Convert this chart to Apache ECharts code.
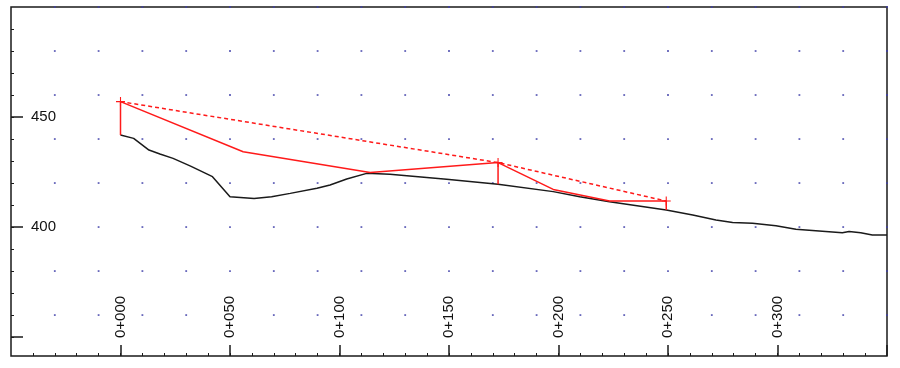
<!DOCTYPE html>
<html><head><meta charset="utf-8">
<script src="https://cdn.jsdelivr.net/npm/echarts@6/dist/echarts.min.js"></script>
<style>html,body{margin:0;padding:0;background:#fff}#c{width:900px;height:368px}</style>
</head><body><div id="c"></div>
<script>
// Ground profile (chainage m, elevation m)
const groundX = [0, 6, 13, 18, 24, 32, 42, 50, 61, 69, 77.5, 89.7, 95.7, 103.3, 112.4, 123, 148.9, 172.4, 197.6, 209.7, 223.3, 249.2, 261.3, 271.9, 279.5, 288.6, 299.3, 308.4, 320.5, 329.6, 332.7, 338, 343.3, 350];
const groundY = [441.8, 440.3, 435, 433.2, 431.2, 427.7, 422.9, 413.8, 413, 413.8, 415.3, 417.6, 419.1, 421.8, 424.4, 424, 421.7, 419.4, 416.1, 413.8, 411.5, 407.7, 405.5, 403.2, 402.1, 401.7, 400.6, 399, 398.1, 397.4, 398, 397.4, 396.4, 396.4];
// Red solid line
const redX = [0, 56, 114, 172.4, 197.6, 223.3, 249.2];
const redY = [457, 434.2, 424.8, 429.3, 417.1, 411.8, 411.8];
// Red dashed chord line (with + markers)
const chordX = [0, 172.4, 249.2];
const chordY = [457, 429.3, 411.8];
// Vertical drops from chord points to ground
const dropX = [0, 172.4, 249.2];
const dropTop = [457, 429.3, 411.8];
const dropBottom = [441.8, 419.4, 407.7];
// Axes
const xMajorTicks = [0, 50, 100, 150, 200, 250, 300, 350];
const xTickLabels = ['0+000', '0+050', '0+100', '0+150', '0+200', '0+250', '0+300'];
const xLabelValues = [0, 50, 100, 150, 200, 250, 300];
const xMinorTicks = [-40,-30,-20,-10,0,10,20,30,40,50,60,70,80,90,100,110,120,130,140,150,160,170,180,190,200,210,220,230,240,250,260,270,280,290,300,310,320,330,340];
const yMajorTicks = [350, 400, 450];
const yLabelValues = [400, 450];
const yMinorTicks = [350,360,370,380,390,400,410,420,430,440,450,460,470,480,490];
// Dot grid positions
const dotXs = [-30,-10,10,30,50,70,90,110,130,150,170,190,210,230,250,270,290,310,330,350];
const dotYs = [360,380,400,420,440,460,480,500];
const dotHidden = ['50,360','150,360','250,360','-30,400'];

const dots = [];
dotYs.forEach(y => dotXs.forEach(x => { if (!dotHidden.includes(x + ',' + y)) dots.push([x, y]); }));

const pair = (xs, ys) => xs.map((x, i) => [x, ys[i]]);
const XMIN = -50, XMAX = 350, YMIN = 341.4, YMAX = 500;
const font = 'Liberation Sans, Arial, sans-serif';

const chart = echarts.init(document.getElementById('c'), null, {renderer: 'canvas'});
const axisBaseX = {type: 'value', min: XMIN, max: XMAX, splitLine: {show: false}, axisLine: {show: false, onZero: false}};
const axisBaseY = {type: 'value', min: YMIN, max: YMAX, splitLine: {show: false}, axisLine: {show: false, onZero: false}};

const series = [
  {type: 'scatter', data: dots, symbol: 'rect', symbolSize: 1.8, itemStyle: {color: '#3c3ca8'}, silent: true, z: 1},
  {type: 'line', data: pair(groundX, groundY), symbol: 'none', lineStyle: {color: '#1a1a1a', width: 1.5}, z: 3},
  {type: 'line', data: pair(redX, redY), symbol: 'none', lineStyle: {color: '#ff1a1a', width: 1.5}, z: 4},
  {type: 'line', data: pair(chordX, chordY), symbol: 'path://M0,4.4h10v1.2h-10zM4.4,0h1.2v10h-1.2z', symbolSize: 9,
    itemStyle: {color: '#ff1a1a'}, lineStyle: {color: '#ff1a1a', width: 1.5, type: [4, 3]}, z: 4}
];
dropX.forEach((x, i) => series.push({type: 'line', data: [[x, dropTop[i]], [x, dropBottom[i]]], symbol: 'none',
  lineStyle: {color: '#ff1a1a', width: 1.5}, z: 4}));

chart.setOption({
  backgroundColor: '#fff',
  animation: false,
  grid: {left: 11, right: 13, top: 7, bottom: 12, show: true, borderColor: '#1a1a1a', borderWidth: 1.5, backgroundColor: '#fff'},
  xAxis: [
    Object.assign({}, axisBaseX, {
      position: 'bottom',
      axisTick: {show: true, inside: true, length: 11, customValues: xMajorTicks, lineStyle: {color: '#1a1a1a', width: 1.5}},
      axisLabel: {show: true, inside: true, rotate: 90, margin: 18, customValues: xLabelValues,
        color: '#111', fontFamily: font, fontSize: 15,
        formatter: v => { const i = xLabelValues.indexOf(Math.round(v)); return i >= 0 ? xTickLabels[i] : ''; }}
    }),
    Object.assign({}, axisBaseX, {
      position: 'bottom',
      axisTick: {show: true, inside: true, length: 3, customValues: xMinorTicks, lineStyle: {color: '#1a1a1a', width: 1}},
      axisLabel: {show: false}
    })
  ],
  yAxis: [
    Object.assign({}, axisBaseY, {
      position: 'left',
      axisTick: {show: true, inside: true, length: 12, customValues: yMajorTicks, lineStyle: {color: '#1a1a1a', width: 1.5}},
      axisLabel: {show: true, inside: true, margin: 20, customValues: yLabelValues, color: '#111', fontFamily: font, fontSize: 15}
    }),
    Object.assign({}, axisBaseY, {
      position: 'left',
      axisTick: {show: true, inside: true, length: 3, customValues: yMinorTicks, lineStyle: {color: '#1a1a1a', width: 1}},
      axisLabel: {show: false}
    })
  ],
  series: series.map(s => Object.assign({xAxisIndex: 0, yAxisIndex: 0, clip: false}, s))
});
</script></body></html>
